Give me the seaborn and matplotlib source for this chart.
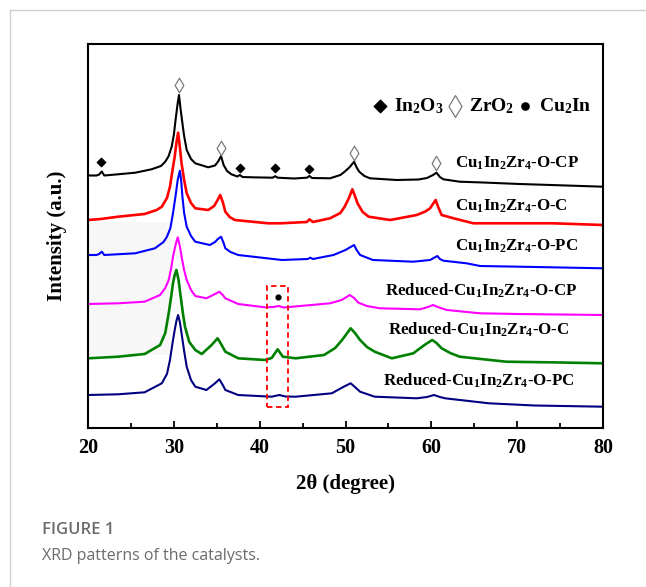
import matplotlib
matplotlib.use("Agg")
import matplotlib.pyplot as plt
from matplotlib.lines import Line2D
from matplotlib.patches import Rectangle
import pandas as pd
import seaborn as sns

# samples, top to bottom
samples = ["Cu1In2Zr4-O-CP", "Cu1In2Zr4-O-C", "Cu1In2Zr4-O-PC",
           "Reduced-Cu1In2Zr4-O-CP", "Reduced-Cu1In2Zr4-O-C", "Reduced-Cu1In2Zr4-O-PC"]
labels = [r"Cu$_1$In$_2$Zr$_4$-O-CP", r"Cu$_1$In$_2$Zr$_4$-O-C", r"Cu$_1$In$_2$Zr$_4$-O-PC",
          r"Reduced-Cu$_1$In$_2$Zr$_4$-O-CP", r"Reduced-Cu$_1$In$_2$Zr$_4$-O-C",
          r"Reduced-Cu$_1$In$_2$Zr$_4$-O-PC"]
colors = ["#000000", "#ff0000", "#0000ff", "#ff00ff", "#008000", "#000080"]

# digitized patterns (2theta, stacked intensity a.u.)
cp_tt = [20.0, 21.0, 21.3, 21.6, 21.9, 23.5, 25.5, 27.4, 28.5, 29.0, 29.4, 29.75, 30.0, 30.2, 30.45,
         30.6, 30.8, 31.0, 31.2, 31.5, 32.0, 32.5, 34.0, 34.8, 35.2, 35.5, 35.8, 36.2, 36.7, 37.4,
         37.7, 38.0, 39.1, 41.5, 41.8, 42.1, 44.0, 45.5, 45.8, 46.1, 48.2, 49.4, 49.9, 50.5, 51.0,
         51.3, 51.6, 52.2, 52.85, 55.96, 58.5, 59.5, 60.2, 60.6, 61.0, 61.4, 63.3, 66.0, 70.3, 75.0, 80.0]
cp_int = [252.5, 252.5, 253.5, 256.5, 252.5, 253.7, 255.3, 258.7, 262, 266.3, 272, 281.3, 293, 308, 325,
          333, 318, 304.7, 292, 278, 269, 264.7, 260.7, 262.5, 267, 272, 263, 257, 253.7, 251.5,
          253, 251, 250.7, 250.3, 251.8, 250.3, 249.5, 250.3, 252, 250, 249.7, 253, 256.3, 261, 266.3,
          260.5, 256.3, 252, 249.7, 248, 248.5, 250, 253, 255.3, 251, 248.7, 246.3, 245.5, 244, 242.7, 241.3]

c_tt = [20.0, 21.5, 23.5, 26.6, 28.0, 28.6, 29.2, 29.55, 29.85, 30.1, 30.3, 30.5, 30.7, 30.9, 31.2,
        31.5, 32.0, 32.5, 34.0, 34.7, 35.1, 35.4, 35.7, 36.0, 36.5, 37.1, 41.0, 42.4, 45.5, 45.8,
        46.2, 48.2, 49.4, 49.9, 50.4, 50.8, 51.1, 51.4, 52.0, 52.7, 55.2, 58.3, 59.3, 59.85, 60.5,
        60.8, 61.2, 62.6, 64.9, 66.5, 74.2, 80.0]
c_int = [208, 209, 211.3, 214, 218, 221.3, 230, 241.3, 258, 271.3, 285, 295.3, 281, 264.7, 248,
         234.7, 225, 219.7, 218, 222, 228, 233, 226, 216.3, 211, 208, 204.7, 204.7, 206, 208.7,
         206, 209.7, 215, 221.3, 230, 238.7, 232, 224.7, 216, 211.3, 208, 213, 216.5, 219.7, 228,
         221, 213, 209.7, 204.7, 204.7, 204.7, 203]

pc_tt = [20.0, 21.0, 21.3, 21.6, 21.9, 25.5, 27.8, 28.8, 29.2, 29.6, 29.9, 30.2, 30.45, 30.7, 30.85,
         31.0, 31.2, 31.5, 32.0, 32.5, 34.2, 34.8, 35.1, 35.5, 35.8, 36.0, 36.6, 37.5, 42.6, 45.6,
         45.9, 46.2, 48.6, 50.0, 51.0, 51.3, 51.7, 53.2, 57.9, 59.85, 60.7, 61.0, 61.4, 64.1, 65.7,
         70.3, 80.0]
pc_int = [173, 173, 174, 176.3, 173, 174.7, 179.7, 186, 191.3, 200, 214.7, 232, 248, 257.3, 248,
          231.3, 215, 201.3, 192, 186.3, 183, 186, 188.7, 191.3, 185, 179.7, 176, 173, 168, 169,
          170.3, 169, 173, 178, 183, 178, 173, 168, 166.3, 168, 172, 169, 167.3, 164.7, 162,
          161.3, 159.7]

rcp_tt = [20.0, 23.5, 26.6, 28.4, 29.0, 29.4, 29.7, 29.9, 30.2, 30.45, 30.7, 30.9, 31.2, 31.5, 32.0,
          32.5, 33.8, 34.8, 35.3, 35.7, 36.0, 37.5, 40.6, 41.6, 42.2, 42.8, 48.2, 49.55, 50.5, 51.0,
          51.5, 52.5, 54.0, 58.7, 59.6, 60.2, 60.9, 61.8, 65.7, 70.0, 80.0]
rcp_int = [124, 124.7, 126.3, 133, 140, 148, 160, 171.3, 183, 190.7, 182, 171.3, 158, 148, 138,
           132, 129.7, 134, 136.3, 133, 129.7, 124, 120.7, 121, 122, 120.5, 124.7, 128, 133, 130,
           125.3, 122, 119.7, 118.7, 121, 123, 120.5, 118, 114.7, 114, 113]

rc_tt = [20.0, 23.5, 26.6, 28.4, 29.0, 29.4, 29.7, 29.9, 30.1, 30.3, 30.55, 30.8, 31.05, 31.3, 31.8,
         32.5, 33.25, 34.4, 35.1, 35.5, 36.0, 37.5, 40.6, 41.4, 42.1, 42.7, 44.2, 47.5, 48.8, 49.6,
         50.6, 51.1, 51.7, 52.5, 53.4, 55.4, 57.9, 59.2, 60.1, 60.6, 61.2, 62.2, 63.3, 68.7, 75.0, 80.0]
rc_int = [69.7, 71.3, 74, 83, 95, 114.7, 132, 144.7, 153, 158, 148, 131.3, 115, 101.3, 86,
          78, 74, 83, 89.7, 84, 76.3, 69.7, 68, 70, 78.7, 71.3, 69.7, 73, 80, 88,
          99.7, 95, 88, 81, 76.3, 69.7, 74.7, 83, 88, 85, 79.7, 75, 71.3, 66.3, 65.5, 64.7]

rpc_tt = [20.0, 23.5, 26.6, 28.6, 29.2, 29.55, 29.85, 30.1, 30.3, 30.5, 30.7, 30.9, 31.2, 31.5, 32.0,
          32.5, 33.8, 34.8, 35.3, 35.7, 36.0, 37.5, 41.4, 42.3, 43.0, 44.2, 48.4, 49.8, 50.6, 51.1,
          51.7, 53.4, 58.3, 59.5, 60.3, 61.0, 61.6, 66.7, 72.0, 80.0]
rpc_int = [33, 33.7, 35.7, 44.7, 54, 68, 85, 98, 107, 113, 106, 94.7, 77, 61.3, 48,
           41.3, 38, 44.7, 48.7, 43, 38, 33, 31.3, 33, 31.5, 31.3, 34.7, 41.3, 44.7, 41,
           36.3, 31.3, 29.7, 31, 33, 31, 29.7, 24.7, 22.5, 21.3]

# phase markers
in2o3_tt = [21.5, 37.7, 41.8, 45.8]
in2o3_int = [266, 260, 260, 259]
zro2_tt = [30.6, 35.5, 51.0, 60.6]
zro2_int = [343, 280, 275, 265]
cu2in_tt = [42.1]
cu2in_int = [131]

# highlighted Cu2In region
box_tt = [40.9, 43.3]
box_int = [21, 142]

all_tt = [cp_tt, c_tt, pc_tt, rcp_tt, rc_tt, rpc_tt]
all_int = [cp_int, c_int, pc_int, rcp_int, rc_int, rpc_int]

frames = []
for name, xs, ys in zip(samples, all_tt, all_int):
    frames.append(pd.DataFrame({"two_theta": xs, "intensity": ys, "sample": name}))
df = pd.concat(frames, ignore_index=True)

plt.rcParams["font.family"] = "Liberation Serif"
plt.rcParams["font.weight"] = "bold"
plt.rcParams["mathtext.default"] = "regular"

fig = plt.figure(figsize=(6.46, 5.87), dpi=100)
ax = fig.add_axes([88 / 646, 1 - 428 / 587, 515 / 646, 384 / 587])

# faint grey scan artefact on the left
ax.add_patch(Rectangle((20, 73), 9.7, 133, color="#f7f7f7", lw=0, zorder=0))

for name, col in zip(samples, colors):
    lw = 1.9 if col in ("#ff0000", "#008000") else 1.5
    sns.lineplot(data=df[df["sample"] == name], x="two_theta", y="intensity",
                 color=col, lw=lw, estimator=None, sort=False, ax=ax, legend=False)

ax.scatter(in2o3_tt, in2o3_int, marker="D", s=18, color="black", label=r"In$_2$O$_3$", zorder=5)
ax.scatter(zro2_tt, zro2_int, marker="d", s=55, facecolor="white", edgecolor="#7a7a7a",
           linewidth=0.9, label=r"ZrO$_2$", zorder=5)
ax.scatter(cu2in_tt, cu2in_int, marker="o", s=12, color="black", label=r"Cu$_2$In", zorder=5)

ax.add_patch(Rectangle((box_tt[0], box_int[0]), box_tt[1] - box_tt[0], box_int[1] - box_int[0],
                       fill=False, edgecolor="#ff0000", lw=1.3, ls=(0, (3, 2)), zorder=6))

label_pos = [(62.8, 265), (62.8, 222), (62.8, 182), (54.6, 137), (54.9, 98), (54.4, 47)]
for (lx, ly), txt in zip(label_pos, labels):
    ax.text(lx, ly, txt, fontsize=12.2, fontweight="bold", va="center", ha="left")

ax.legend(loc="center left", bbox_to_anchor=(0.552, 0.838), ncol=3, frameon=False,
          fontsize=14, markerscale=1.5, handlelength=0.8, handletextpad=0.3,
          columnspacing=0.2, borderpad=0, borderaxespad=0)

ax.set_xlim(20, 80)
ax.set_ylim(0, 384)
ax.set_xticks(range(20, 81, 10))
ax.set_xticks(range(25, 80, 10), minor=True)
ax.tick_params(axis="x", which="both", direction="in", width=1.3, labelsize=14.5, pad=7)
ax.tick_params(axis="x", which="major", length=5)
ax.tick_params(axis="x", which="minor", length=3.5)
ax.tick_params(axis="y", left=False, labelleft=False)
for s in ax.spines.values():
    s.set_linewidth(1.5)
ax.set_xlabel("2θ (degree)", fontsize=15, fontweight="bold", labelpad=12)
ax.set_ylabel("Intensity (a.u.)", fontsize=15, fontweight="bold", labelpad=15)

# card frame and caption
fig.add_artist(Line2D([10 / 646, 10 / 646], [0, 1 - 10 / 587], transform=fig.transFigure,
                      color="#d0d0d0", lw=1))
fig.add_artist(Line2D([10 / 646, 1], [1 - 10 / 587, 1 - 10 / 587], transform=fig.transFigure,
                      color="#d0d0d0", lw=1))
fig.text(42 / 646, 1 - 530 / 587, "FIGURE 1", family="Open Sans", fontweight="semibold",
         fontsize=12, color="#6b6b6b", va="center")
fig.text(42 / 646, 1 - 556 / 587, "XRD patterns of the catalysts.", family="Open Sans",
         fontweight="normal", fontsize=11.5, color="#6b6b6b", va="center")

fig.savefig("out.png", dpi=100, facecolor="white")
